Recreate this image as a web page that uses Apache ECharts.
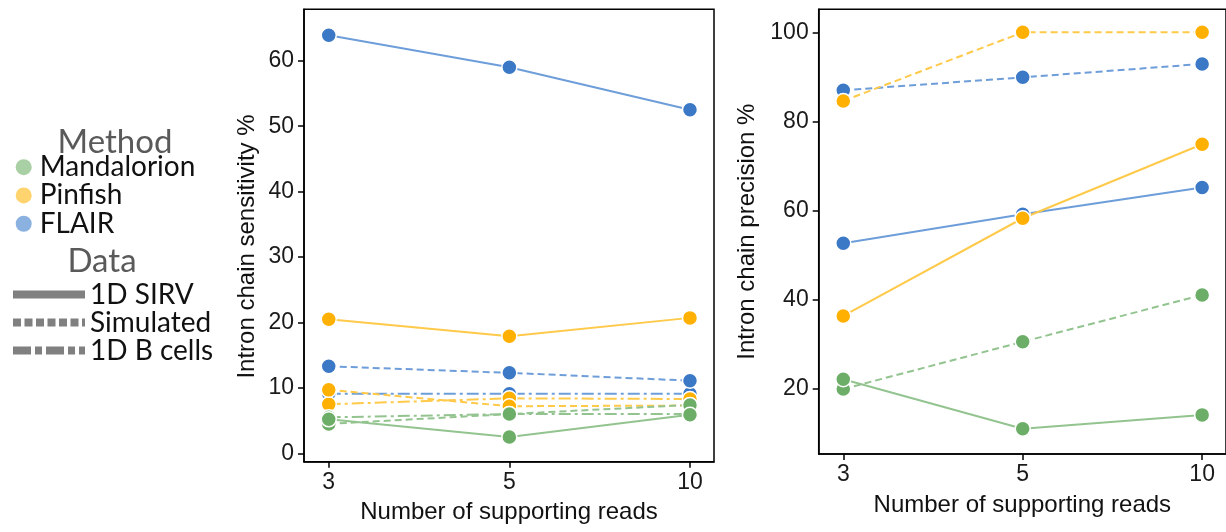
<!DOCTYPE html>
<html>
<head>
<meta charset="utf-8">
<script src="https://cdn.jsdelivr.net/npm/echarts@6/dist/echarts.min.js"></script>
<style>
html,body{margin:0;padding:0;background:#fff;}
#chart{width:1226px;height:532px;}
</style>
</head>
<body>
<div id="chart"></div>
<script>
// ---- data ----
const readsLabels = ['3', '5', '10'];
const methods = ['Mandalorion', 'Pinfish', 'FLAIR'];
const dataSets = ['1D SIRV', 'Simulated', '1D B cells'];
const sensTicks = [0, 10, 20, 30, 40, 50, 60];
const precTicks = [20, 40, 60, 80, 100];

// Intron chain sensitivity %
const sensMandalorionSirv = [5.2, 2.5, 5.9];
const sensPinfishSirv = [20.5, 17.9, 20.7];
const sensFlairSirv = [63.9, 59.0, 52.5];
const sensMandalorionSim = [4.5, 6.0, 7.4];
const sensPinfishSim = [9.7, 7.2, 7.3];
const sensFlairSim = [13.3, 12.3, 11.1];
const sensMandalorionB = [5.5, 6.0, 6.0];
const sensPinfishB = [7.5, 8.4, 8.3];
const sensFlairB = [9.1, 9.1, 9.1];

// Intron chain precision %
const precMandalorionSirv = [22.2, 11.1, 14.2];
const precPinfishSirv = [36.4, 58.3, 74.9];
const precFlairSirv = [52.7, 59.2, 65.2];
const precMandalorionSim = [20.0, 30.6, 41.1];
const precPinfishSim = [84.6, 100.0, 100.0];
const precFlairSim = [87.0, 89.9, 92.9];

// ---- styles ----
const lineColors = { Mandalorion: '#93c48f', Pinfish: '#ffc94a', FLAIR: '#6e9ed9' };
const markColors = { Mandalorion: '#6cae68', Pinfish: '#ffb000', FLAIR: '#3b78c5' };
const dashTypes = { '1D SIRV': 'solid', 'Simulated': [7, 4], '1D B cells': [12, 4, 3, 4] };

function mk(name, method, ds, vals, axisIdx, z) {
  return {
    name: name,
    type: 'line',
    xAxisIndex: axisIdx, yAxisIndex: axisIdx,
    data: vals.map((v, i) => [i, v]),
    symbol: 'circle', symbolSize: 15,
    z: z,
    lineStyle: { color: lineColors[method], width: 2, type: dashTypes[ds] },
    itemStyle: { color: markColors[method], borderColor: '#fff', borderWidth: 1.5 },
    emphasis: { disabled: true },
    animation: false
  };
}

const series = [
  mk('s-FLAIR-B', 'FLAIR', '1D B cells', sensFlairB, 0, 2),
  mk('s-FLAIR-Sim', 'FLAIR', 'Simulated', sensFlairSim, 0, 2),
  mk('s-FLAIR-SIRV', 'FLAIR', '1D SIRV', sensFlairSirv, 0, 2),
  mk('s-Pinfish-B', 'Pinfish', '1D B cells', sensPinfishB, 0, 2),
  mk('s-Pinfish-Sim', 'Pinfish', 'Simulated', sensPinfishSim, 0, 2),
  mk('s-Pinfish-SIRV', 'Pinfish', '1D SIRV', sensPinfishSirv, 0, 2),
  mk('s-Mand-B', 'Mandalorion', '1D B cells', sensMandalorionB, 0, 2),
  mk('s-Mand-Sim', 'Mandalorion', 'Simulated', sensMandalorionSim, 0, 2),
  mk('s-Mand-SIRV', 'Mandalorion', '1D SIRV', sensMandalorionSirv, 0, 2),
  mk('p-FLAIR-Sim', 'FLAIR', 'Simulated', precFlairSim, 1, 2),
  mk('p-FLAIR-SIRV', 'FLAIR', '1D SIRV', precFlairSirv, 1, 2),
  mk('p-Pinfish-Sim', 'Pinfish', 'Simulated', precPinfishSim, 1, 2),
  mk('p-Pinfish-SIRV', 'Pinfish', '1D SIRV', precPinfishSirv, 1, 2),
  mk('p-Mand-Sim', 'Mandalorion', 'Simulated', precMandalorionSim, 1, 2),
  mk('p-Mand-SIRV', 'Mandalorion', '1D SIRV', precMandalorionSirv, 1, 2)
];

// dummy series feeding the legends
methods.forEach(m => series.push({
  name: m, type: 'scatter', xAxisIndex: 0, yAxisIndex: 0, data: [],
  itemStyle: { color: lineColors[m] }
}));
dataSets.forEach(d => series.push({
  name: d, type: 'line', xAxisIndex: 0, yAxisIndex: 0, data: [], symbol: 'none',
  lineStyle: { color: '#808080', width: 8, type: 'solid' },
  itemStyle: { color: '#808080' }
}));

const tickFont = { fontFamily: 'Liberation Sans', fontSize: 23, color: '#1a1a1a' };
const nameFont = { fontFamily: 'Liberation Sans', fontSize: 24, color: '#111' };
const axisLineStyle = { show: true, onZero: false, lineStyle: { color: '#000', width: 1.5 } };

function xAx(gridIndex) {
  return {
    type: 'value', gridIndex: gridIndex, min: -0.137, max: 2.133,
    name: 'Number of supporting reads', nameLocation: 'middle', nameGap: 39,
    nameTextStyle: nameFont,
    axisLine: axisLineStyle,
    axisTick: { show: true, length: 6, lineStyle: { color: '#000', width: 1.5 }, customValues: [0, 1, 2] },
    axisLabel: Object.assign({ margin: 9, customValues: [0, 1, 2], formatter: v => readsLabels[Math.round(v)] }, tickFont),
    splitLine: { show: false }
  };
}
function yAx(gridIndex, min, max, ticks, name, gap, pad) {
  return {
    type: 'value', gridIndex: gridIndex, min: min, max: max,
    name: name, nameLocation: 'middle', nameGap: gap,
    nameTextStyle: Object.assign({ padding: pad }, nameFont),
    axisLine: axisLineStyle,
    axisTick: { show: true, length: 6, lineStyle: { color: '#000', width: 1.5 }, customValues: ticks },
    axisLabel: Object.assign({ margin: 10, customValues: ticks }, tickFont),
    splitLine: { show: false }
  };
}

const legendText = { fontFamily: 'Lato', fontSize: 28, color: '#111', lineHeight: 28.3 };
const titleStyle = { fontFamily: 'Lato', fontSize: 33, color: '#5a5a5a', fontWeight: 'normal' };

const option = {
  backgroundColor: '#fff',
  animation: false,
  title: [
    { text: 'Method', left: 115, top: 126, textAlign: 'center', padding: 0, textStyle: titleStyle },
    { text: 'Data', left: 102, top: 245, textAlign: 'center', padding: 0, textStyle: titleStyle }
  ],
  legend: [
    {
      orient: 'vertical', left: 15.7, top: 153, itemGap: 0, padding: 0,
      itemWidth: 22, itemHeight: 16, icon: 'circle', selectedMode: false,
      textStyle: legendText,
      data: methods.map(m => ({ name: m, itemStyle: { color: lineColors[m] } }))
    },
    {
      orient: 'vertical', left: 9, top: 280.5, itemGap: 0, padding: 0,
      itemWidth: 72, itemHeight: 10, selectedMode: false,
      textStyle: Object.assign({}, legendText, { lineHeight: 27.5 }),
      data: [
        { name: '1D SIRV', itemStyle: { color: 'transparent', borderWidth: 0, opacity: 0 }, lineStyle: { color: '#808080', width: 8, type: 'solid' } },
        { name: 'Simulated', itemStyle: { color: 'transparent', borderWidth: 0, opacity: 0 }, lineStyle: { color: '#808080', width: 8, type: [8, 3.5] } },
        { name: '1D B cells', itemStyle: { color: 'transparent', borderWidth: 0, opacity: 0 }, lineStyle: { color: '#808080', width: 8, type: [18, 4, 7, 4] } }
      ]
    }
  ],
  grid: [
    { left: 304, top: 9.3, width: 410, height: 452.4, show: true, borderColor: '#000', borderWidth: 1.5, backgroundColor: 'transparent' },
    { left: 818.7, top: 9.3, width: 410, height: 444.7, show: true, borderColor: '#000', borderWidth: 1.5, backgroundColor: 'transparent' }
  ],
  xAxis: [xAx(0), xAx(1)],
  yAxis: [
    yAx(0, -1.28, 67.86, sensTicks, 'Intron chain sensitivity %', 45, [0, 22, 0, 0]),
    yAx(1, 5.43, 105.16, precTicks, 'Intron chain precision %', 59, 0)
  ],
  series: series
};

const chart = echarts.init(document.getElementById('chart'), null, { renderer: 'canvas' });
chart.setOption(option);
</script>
</body>
</html>
